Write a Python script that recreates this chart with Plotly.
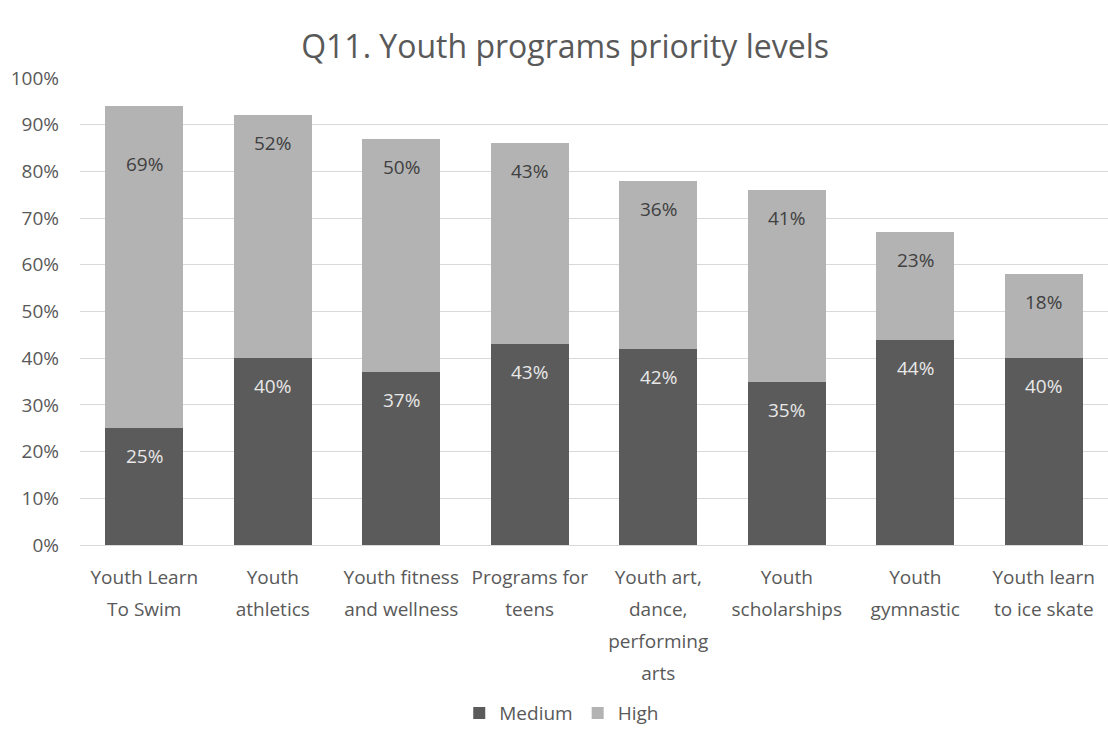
import plotly.graph_objects as go

categories = [
    "Youth Learn<br>To Swim",
    "Youth<br>athletics",
    "Youth fitness<br>and wellness",
    "Programs for<br>teens",
    "Youth art,<br>dance,<br>performing<br>arts",
    "Youth<br>scholarships",
    "Youth<br>gymnastic",
    "Youth learn<br>to ice skate",
]
medium = [25, 40, 37, 43, 42, 35, 44, 40]
high = [69, 52, 50, 43, 36, 41, 23, 18]

MEDIUM_COLOR = "#5b5b5b"
HIGH_COLOR = "#b3b3b3"
TEXT_COLOR = "#595959"
FONT = "Open Sans, DejaVu Sans, sans-serif"

# category labels: glyphs at 19px, line pitch taken from the larger tick font
tick_text = [
    "<br>".join(f"<span style='font-size:19px'>{part}</span>" for part in c.split("<br>"))
    for c in categories
]

fig = go.Figure()
fig.add_trace(go.Bar(name="Medium", x=categories, y=medium, marker_color=MEDIUM_COLOR,
                     marker_line_width=0, hoverinfo="skip"))
fig.add_trace(go.Bar(name="High", x=categories, y=high, marker_color=HIGH_COLOR,
                     marker_line_width=0, hoverinfo="skip"))

# value labels near the top of each segment
annotations = []
for i, (cat, m, h) in enumerate(zip(categories, medium, high)):
    annotations.append(dict(x=cat, y=m, text=f"{m}%", showarrow=False, yshift=-28,
                            font=dict(family=FONT, size=19, color="#e8e8e8")))
    shift = -58 if i == 0 else -28
    annotations.append(dict(x=cat, y=m + h, text=f"{h}%", showarrow=False, yshift=shift,
                            font=dict(family=FONT, size=19, color="#404040")))

fig.update_layout(
    barmode="stack",
    bargap=0.39,
    width=1108,
    height=732,
    margin=dict(l=80, r=0, t=78, b=187, autoexpand=False),
    paper_bgcolor="white",
    plot_bgcolor="white",
    font=dict(family=FONT, size=19, color=TEXT_COLOR),
    title=dict(text="Q11. Youth programs priority levels", x=0.51, xanchor="center",
               y=0.936, yanchor="middle",
               font=dict(family=FONT, size=32, color=TEXT_COLOR)),
    legend=dict(orientation="h", xref="container", x=0.507, xanchor="center",
                y=-0.36, yanchor="middle",
                font=dict(family=FONT, size=19, color=TEXT_COLOR),
                itemwidth=30, traceorder="normal"),
    annotations=annotations,
    showlegend=True,
)
fig.update_yaxes(range=[0, 100], dtick=10, ticksuffix="%", showgrid=True,
                 gridcolor="#d9d9d9", gridwidth=1, zeroline=False,
                 tickfont=dict(family=FONT, size=19, color=TEXT_COLOR),
                 showline=False, ticks="", ticklen=0, ticklabelstandoff=20,
                 automargin=False)
fig.update_xaxes(showline=True, linecolor="#d9d9d9", linewidth=1, ticks="",
                 tickmode="array", tickvals=categories, ticktext=tick_text,
                 tickangle=0, automargin=False,
                 tickfont=dict(family=FONT, size=24.5, color=TEXT_COLOR),
                 ticklabelstandoff=9)

fig.write_html("out.html")
